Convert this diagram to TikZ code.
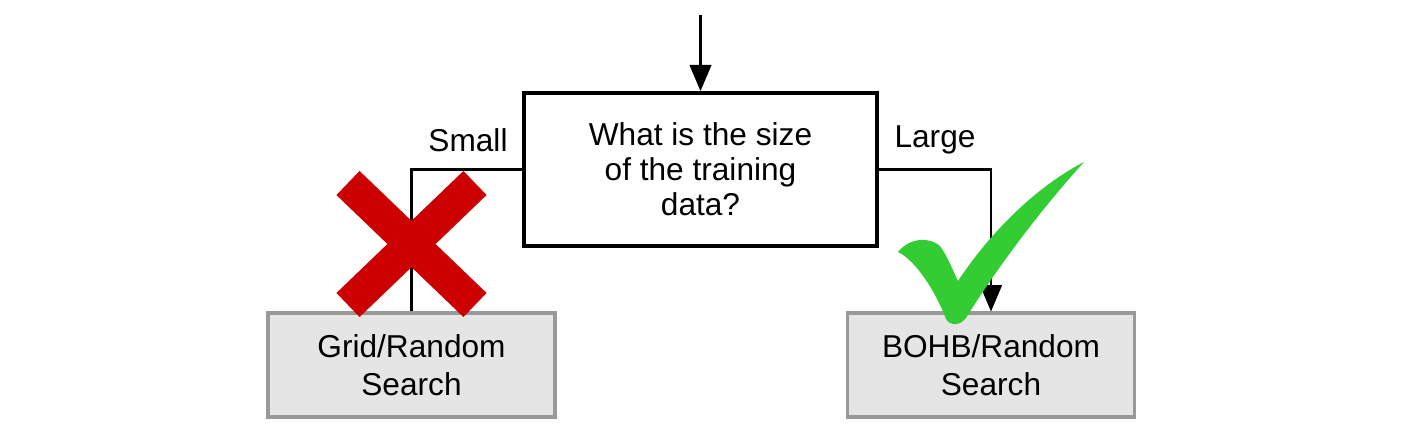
\documentclass[tikz,border=0pt]{standalone}
\usepackage{fontspec}
\setmainfont{Liberation Sans}
\usepackage{tikz}
\usetikzlibrary{positioning,arrows}

\begin{document}
\begin{tikzpicture}[
ques/.style={
	draw,
	line width=1.1pt,
	minimum width=3.53cm,
	minimum height=1.53cm,
	align=center,
	font=\fontsize{9}{10}\selectfont
},
algo/.style={
	draw=black!40,
	fill=black!10,
	line width=0.9pt,
	minimum width=2.87cm,
	minimum height=1.04cm,
	align=center,
	font=\fontsize{9}{10.8}\selectfont
},
edge/.style={
	line width=0.7pt
},
lab/.style={
	font=\fontsize{9}{10}\selectfont
}
]
\useasboundingbox (0,0) rectangle (14.05,4.35);

\node[ques] at (7.005,2.655)
(size) {What is the size\\of the training\\data?};
\coordinate[above=0.76cm of size.north] (start);
\node[algo] at (4.115,0.70)
(grid) {Grid/Random\\Search};
\node[algo] at (9.91,0.70)
(bohb) {BOHB/Random\\Search};

\node[lab] at (4.68,2.95) (small) {Small};
\node[lab] at (9.35,2.95) (large) {Large};

\draw[edge,-triangle 45] (start) -- (size.north);
\draw[edge] (size.west) -| (grid.north);
\draw[edge,-triangle 45] (size.east) -| (bohb.north);

% red cross
\draw[line width=9.5pt,color={rgb,255:red,204;green,0;blue,0}]
	(3.48,2.52) -- (4.75,1.30)
	(4.75,2.52) -- (3.48,1.30);

% green tick
\fill[color={rgb,255:red,51;green,204;blue,51}]
	(8.98,1.83) .. controls (9.10,1.98) and (9.30,1.98) .. (9.40,1.89)
	.. controls (9.48,1.78) and (9.54,1.62) .. (9.58,1.54)
	.. controls (9.85,1.95) and (10.30,2.45) .. (10.84,2.73)
	.. controls (10.45,2.30) and (10.00,1.72) .. (9.66,1.17)
	.. controls (9.60,1.09) and (9.50,1.09) .. (9.46,1.16)
	.. controls (9.35,1.45) and (9.15,1.75) .. (8.98,1.83) -- cycle;

\end{tikzpicture}
\end{document}
